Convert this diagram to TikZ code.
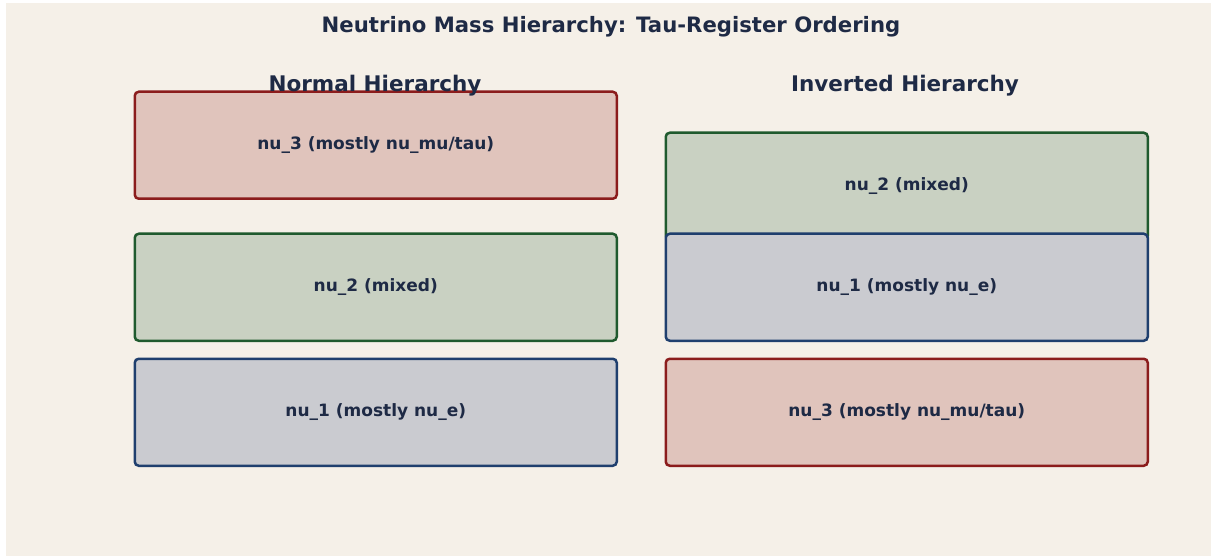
\documentclass[tikz,border=0pt]{standalone}
\usepackage{fontspec}
\setmainfont{DejaVu Sans}
\definecolor{bg}{HTML}{F5F0E8}
\definecolor{ink}{HTML}{1E2A45}
\definecolor{redb}{HTML}{8B1C1C}
\definecolor{redf}{HTML}{E0C4BC}
\definecolor{greenb}{HTML}{1F5A2E}
\definecolor{greenf}{HTML}{C9D1C2}
\definecolor{blueb}{HTML}{1F3F6E}
\definecolor{bluef}{HTML}{CACBD0}
\begin{document}
\begin{tikzpicture}[x=1pt,y=-1pt,
  lvl/.style={draw, line width=2.5pt, rounded corners=4pt, minimum width=482pt, minimum height=107pt, inner sep=0pt, font=\fontsize{17}{19}\selectfont\bfseries, text=ink, anchor=north west},
  redlvl/.style={lvl, draw=redb, fill=redf},
  greenlvl/.style={lvl, draw=greenb, fill=greenf},
  bluelvl/.style={lvl, draw=blueb, fill=bluef},
  head/.style={font=\fontsize{21.5}{24}\selectfont\bfseries, text=ink}]
\fill[white] (0,0) rectangle (1211,556);
\fill[bg] (6,3) rectangle (1211,556);
\useasboundingbox (0,0) rectangle (1211,556);
\node[head, font=\fontsize{21.2}{24}\selectfont\bfseries] (title) at (611,27) {Neutrino Mass Hierarchy: Tau-Register Ordering};
% Normal
\node[redlvl] (n3) at (133.5,90.5) {nu\_3 (mostly nu\_mu/tau)};
\node[greenlvl] (n2) at (133.5,232.5) {nu\_2 (mixed)};
\node[bluelvl] (n1) at (133.5,357.5) {nu\_1 (mostly nu\_e)};
\node[head] (nh) at (375,86) {Normal Hierarchy};
% Inverted
\node[greenlvl] (i2) at (664.5,131.5) {nu\_2 (mixed)};
\node[bluelvl] (i1) at (664.5,232.5) {nu\_1 (mostly nu\_e)};
\node[redlvl] (i3) at (664.5,357.5) {nu\_3 (mostly nu\_mu/tau)};
\node[head] (ih) at (905,86) {Inverted Hierarchy};
\end{tikzpicture}
\end{document}
